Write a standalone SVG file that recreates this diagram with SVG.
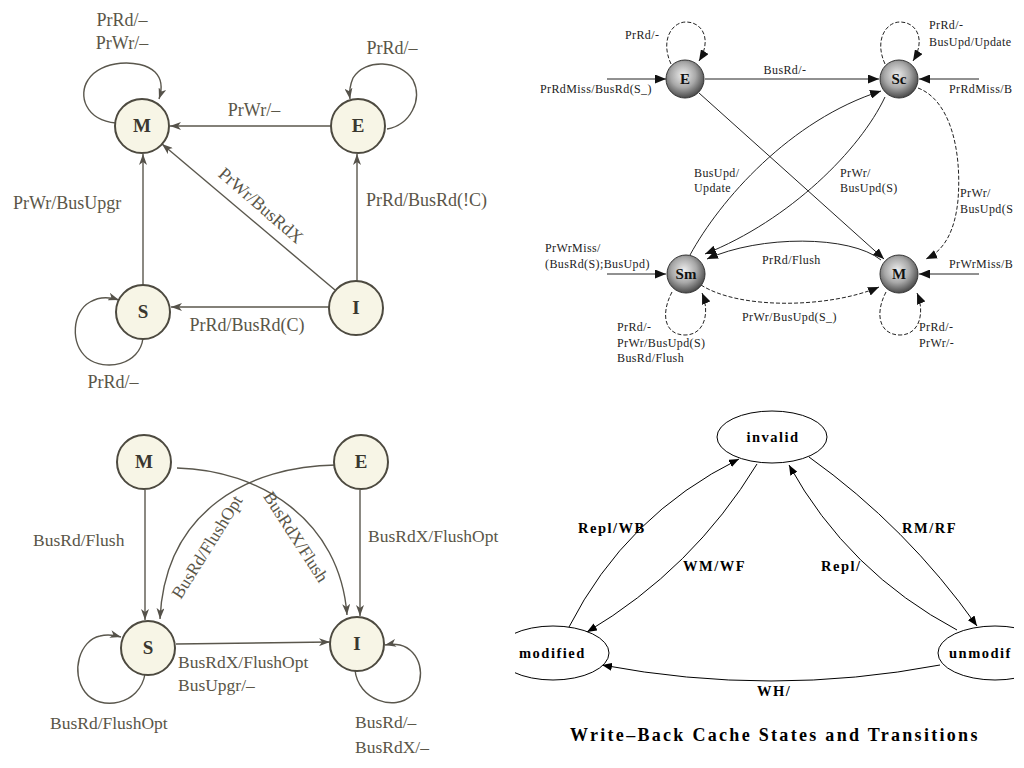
<svg xmlns="http://www.w3.org/2000/svg" width="1024" height="768" viewBox="0 0 1024 768">
<defs>
  <style>
    .onode{fill:#f7f5e6;stroke:#4d4a40;stroke-width:2}
    .otxt{font-family:"Liberation Serif",serif;font-size:18px;fill:#5a5648}
    .otxtb{font-family:"Liberation Serif",serif;font-size:17.5px;fill:#5a5648}
    .olbl{font-family:"Liberation Serif",serif;font-size:19px;font-weight:bold;fill:#3a372f;text-anchor:middle}
    .oedge{fill:none;stroke:#5a574d;stroke-width:1.4;marker-end:url(#arrO)}
    .dnode{fill:url(#sphere);stroke:#333;stroke-width:1}
    .dlbl{font-family:"Liberation Serif",serif;font-size:15px;font-weight:bold;fill:#111;text-anchor:middle}
    .dtxt{font-family:"Liberation Serif",serif;font-size:12px;fill:#222;letter-spacing:0.4px}
    .dedge{fill:none;stroke:#222;stroke-width:1;marker-end:url(#arrD)}
    .dash{stroke-dasharray:4 2}
    .wnode{fill:#fff;stroke:#000;stroke-width:1}
    .wtxt{font-family:"Liberation Serif",serif;font-size:14.5px;font-weight:bold;fill:#000;letter-spacing:1.5px}
    .wedge{fill:none;stroke:#000;stroke-width:1;marker-end:url(#arrW)}
  </style>
  <marker id="arrO" markerUnits="userSpaceOnUse" markerWidth="12" markerHeight="8" refX="11" refY="4" orient="auto">
    <path d="M0,0 L11,4 L0,8 L3,4 z" fill="#55524a"/>
  </marker>
  <marker id="arrD" markerUnits="userSpaceOnUse" markerWidth="12" markerHeight="9" refX="11" refY="4.5" orient="auto">
    <path d="M0,0 L11,4.5 L0,9 z" fill="#111"/>
  </marker>
  <marker id="arrW" markerUnits="userSpaceOnUse" markerWidth="11" markerHeight="8" refX="10" refY="4" orient="auto">
    <path d="M0,0 L10,4 L0,8 z" fill="#000"/>
  </marker>
  <radialGradient id="sphere" cx="45%" cy="40%" r="60%">
    <stop offset="0" stop-color="#eeeeee"/>
    <stop offset="0.55" stop-color="#a8a8a8"/>
    <stop offset="1" stop-color="#4a4a4a"/>
  </radialGradient>
  <clipPath id="clipTR"><rect x="512" y="0" width="508" height="384"/></clipPath>
  <clipPath id="clipBR"><rect x="515" y="390" width="499" height="378"/></clipPath>
</defs>
<rect width="1024" height="768" fill="#ffffff"/>

<!-- ============ Top-left: MESI processor-side ============ -->
<g id="tl">
  <g id="tl-connectors">
    <line class="oedge" x1="331" y1="126" x2="170" y2="126"/>
    <line class="oedge" x1="335" y1="290" x2="162" y2="144"/>
    <line class="oedge" x1="143" y1="285" x2="143" y2="154"/>
    <line class="oedge" x1="357" y1="281" x2="357" y2="154"/>
    <line class="oedge" x1="329" y1="307" x2="171" y2="307"/>
    <path class="oedge" d="M116,123 C85,120 78,95 88,80 C100,60 140,58 155,72 C163,80 162,90 159,99"/>
    <path class="oedge" d="M387,129 C410,125 423,100 413,80 C400,60 365,58 353,78 C350,85 349,92 350,99"/>
    <path class="oedge" d="M143,338 C140,365 105,372 87,358 C70,343 72,312 90,302 C100,296 110,297 119,300"/>
    <text class="otxt" x="122" y="26" text-anchor="middle">PrRd/–</text>
    <text class="otxt" x="122" y="49" text-anchor="middle">PrWr/–</text>
    <text class="otxt" x="392" y="54" text-anchor="middle">PrRd/–</text>
    <text class="otxt" x="254" y="116" text-anchor="middle">PrWr/–</text>
    <text class="otxt" x="13" y="209">PrWr/BusUpgr</text>
    <text class="otxt" x="0" y="0" text-anchor="middle" transform="translate(257,210) rotate(41)">PrWr/BusRdX</text>
    <text class="otxt" x="366" y="206">PrRd/BusRd(!C)</text>
    <text class="otxt" x="247" y="331" text-anchor="middle">PrRd/BusRd(C)</text>
    <text class="otxt" x="113" y="388" text-anchor="middle">PrRd/–</text>
  </g>
  <g id="tl-M"><circle class="onode" cx="142" cy="126" r="27"/><text class="olbl" x="142" y="132">M</text></g>
  <g id="tl-E"><circle class="onode" cx="358" cy="126" r="27"/><text class="olbl" x="358" y="132">E</text></g>
  <g id="tl-S"><circle class="onode" cx="143" cy="312" r="27"/><text class="olbl" x="143" y="318">S</text></g>
  <g id="tl-I"><circle class="onode" cx="356" cy="308" r="27"/><text class="olbl" x="356" y="314">I</text></g>
</g>

<!-- ============ Bottom-left: MESI bus-side ============ -->
<g id="bl">
  <g id="bl-connectors">
    <line class="oedge" x1="145" y1="490" x2="145" y2="620"/>
    <line class="oedge" x1="360" y1="490" x2="360" y2="616"/>
    <path class="oedge" d="M336,465 C250,466 165,510 160,619"/>
    <path class="oedge" d="M177,468 C260,470 340,520 347,615"/>
    <line class="oedge" x1="176" y1="644" x2="330" y2="642"/>
    <path class="oedge" d="M145,674 C140,705 100,712 85,692 C70,672 80,640 100,636 C108,634 114,635 121,637"/>
    <path class="oedge" d="M355,670 C358,700 395,712 412,695 C428,678 420,650 400,645 C395,644 390,644 385,645"/>
    <text class="otxtb" x="33" y="546">BusRd/Flush</text>
    <text class="otxtb" x="368" y="542">BusRdX/FlushOpt</text>
    <text class="otxtb" x="0" y="0" text-anchor="middle" transform="translate(212,550) rotate(-58)">BusRd/FlushOpt</text>
    <text class="otxtb" x="0" y="0" text-anchor="middle" transform="translate(291,540) rotate(57)">BusRdX/Flush</text>
    <text class="otxtb" x="178" y="668">BusRdX/FlushOpt</text>
    <text class="otxtb" x="178" y="691">BusUpgr/–</text>
    <text class="otxtb" x="50" y="729">BusRd/FlushOpt</text>
    <text class="otxtb" x="355" y="728">BusRd/–</text>
    <text class="otxtb" x="355" y="753">BusRdX/–</text>
  </g>
  <g id="bl-M"><circle class="onode" cx="144" cy="462" r="27"/><text class="olbl" x="144" y="468">M</text></g>
  <g id="bl-E"><circle class="onode" cx="361" cy="462" r="27"/><text class="olbl" x="361" y="468">E</text></g>
  <g id="bl-S"><circle class="onode" cx="148" cy="648" r="27"/><text class="olbl" x="148" y="654">S</text></g>
  <g id="bl-I"><circle class="onode" cx="357" cy="644" r="27"/><text class="olbl" x="357" y="650">I</text></g>
</g>

<!-- ============ Top-right: Dragon protocol ============ -->
<g id="tr" clip-path="url(#clipTR)">
  <g id="tr-connectors">
    <path class="dedge dash" d="M671,64 C660,40 672,22 686,22 C703,22 712,40 699,61"/>
    <path class="dedge dash" d="M885,64 C874,40 886,22 900,22 C917,22 926,40 913,61"/>
    <line class="dedge" x1="607" y1="79" x2="666" y2="79"/>
    <line class="dedge" x1="705" y1="79" x2="879" y2="79"/>
    <line class="dedge" x1="979" y1="79" x2="919" y2="79"/>
    <line class="dedge" x1="699" y1="93" x2="884" y2="259"/>
    <path class="dedge" d="M690,255 C720,200 790,120 881,91"/>
    <path class="dedge" d="M885,97 C860,150 790,220 705,254"/>
    <path class="dedge dash" d="M918,88 C950,100 962,150 958,200 C955,230 945,250 926,259"/>
    <path class="dedge" d="M881,260 C850,235 760,235 707,259"/>
    <path class="dedge dash" d="M701,285 C740,310 830,308 879,287"/>
    <line class="dedge" x1="607" y1="274" x2="666" y2="274"/>
    <line class="dedge" x1="979" y1="274" x2="919" y2="274"/>
    <path class="dedge dash" d="M672,292 C660,315 665,335 685,335 C705,335 710,312 702,293"/>
    <path class="dedge dash" d="M886,292 C874,315 880,335 900,335 C920,335 925,312 917,293"/>
    <text class="dtxt" x="625" y="39">PrRd/-</text>
    <text class="dtxt" x="540" y="93">PrRdMiss/BusRd(S_)</text>
    <text class="dtxt" x="785" y="74" text-anchor="middle">BusRd/-</text>
    <text class="dtxt" x="929" y="29">PrRd/-</text>
    <text class="dtxt" x="929" y="46">BusUpd/Update</text>
    <text class="dtxt" x="949" y="93">PrRdMiss/B</text>
    <text class="dtxt" x="694" y="177">BusUpd/</text>
    <text class="dtxt" x="694" y="192">Update</text>
    <text class="dtxt" x="840" y="177">PrWr/</text>
    <text class="dtxt" x="840" y="192">BusUpd(S)</text>
    <text class="dtxt" x="960" y="197">PrWr/</text>
    <text class="dtxt" x="960" y="213">BusUpd(S</text>
    <text class="dtxt" x="545" y="252">PrWrMiss/</text>
    <text class="dtxt" x="545" y="268">(BusRd(S);BusUpd)</text>
    <text class="dtxt" x="762" y="264">PrRd/Flush</text>
    <text class="dtxt" x="949" y="268">PrWrMiss/B</text>
    <text class="dtxt" x="742" y="321">PrWr/BusUpd(S_)</text>
    <text class="dtxt" x="617" y="331">PrRd/-</text>
    <text class="dtxt" x="617" y="347">PrWr/BusUpd(S)</text>
    <text class="dtxt" x="617" y="362">BusRd/Flush</text>
    <text class="dtxt" x="919" y="331">PrRd/-</text>
    <text class="dtxt" x="919" y="347">PrWr/-</text>
  </g>
  <g id="tr-E"><circle class="dnode" cx="685" cy="79" r="19"/><text class="dlbl" x="685" y="84">E</text></g>
  <g id="tr-Sc"><circle class="dnode" cx="899" cy="79" r="19"/><text class="dlbl" x="899" y="84">Sc</text></g>
  <g id="tr-Sm"><circle class="dnode" cx="686" cy="274" r="19"/><text class="dlbl" x="686" y="279">Sm</text></g>
  <g id="tr-M"><circle class="dnode" cx="899" cy="274" r="19"/><text class="dlbl" x="899" y="279">M</text></g>
</g>

<!-- ============ Bottom-right: Write-back cache ============ -->
<g id="br" clip-path="url(#clipBR)">
  <g id="br-connectors">
    <path class="wedge" d="M569,627 Q626,515 739,459"/>
    <path class="wedge" d="M757,464 Q693,569 587,632"/>
    <path class="wedge" d="M957,630 Q848,572 789,465"/>
    <path class="wedge" d="M809,457 Q907,527 977,626"/>
    <path class="wedge" d="M940,665 Q771,697 602,665"/>
    <text class="wtxt" x="578" y="533">Repl/WB</text>
    <text class="wtxt" x="683" y="571">WM/WF</text>
    <text class="wtxt" x="821" y="571">Repl/</text>
    <text class="wtxt" x="902" y="533">RM/RF</text>
    <text class="wtxt" x="757" y="696">WH/</text>
  </g>
  <g id="br-invalid"><ellipse class="wnode" cx="772" cy="437" rx="55" ry="26"/><text class="wtxt" x="773" y="442" text-anchor="middle">invalid</text></g>
  <g id="br-modified"><ellipse class="wnode" cx="553" cy="653" rx="56" ry="27"/><text class="wtxt" x="519" y="658">modified</text></g>
  <g id="br-unmodified"><ellipse class="wnode" cx="995" cy="653" rx="57" ry="27"/><text class="wtxt" x="949" y="658">unmodif</text></g>
</g>
<text x="570" y="741" font-family="Liberation Serif, serif" font-size="18" font-weight="bold" letter-spacing="2.3" fill="#000">Write–Back Cache States and Transitions</text>
</svg>
